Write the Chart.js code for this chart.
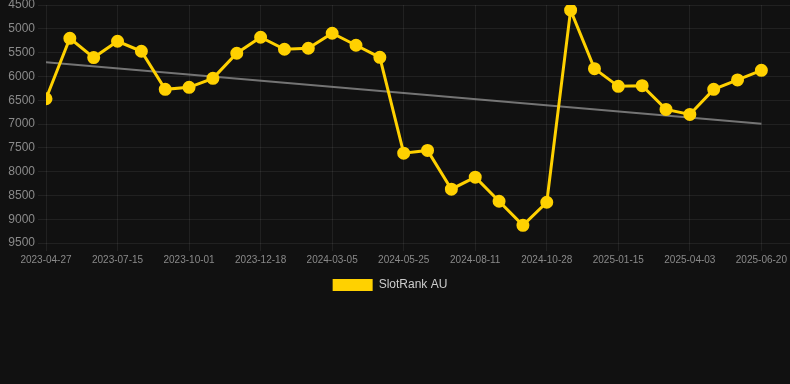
<!DOCTYPE html>
<html>
<head>
<meta charset="utf-8">
<script src="https://cdn.jsdelivr.net/npm/chart.js@4/dist/chart.umd.min.js"></script>
<style>
  html, body { margin: 0; padding: 0; background: #111111; }
  #wrap { position: relative; width: 790px; height: 301px; }
</style>
</head>
<body>
<div id="wrap"><canvas id="rankChart"></canvas></div>
<script>
const dates = [
  "2023-04-27", "2023-05-23", "2023-06-19", "2023-07-15", "2023-08-10",
  "2023-09-05", "2023-10-01", "2023-10-27", "2023-11-22", "2023-12-18",
  "2024-01-13", "2024-02-08", "2024-03-05", "2024-03-31", "2024-04-28",
  "2024-05-25", "2024-06-20", "2024-07-16", "2024-08-11", "2024-09-06",
  "2024-10-02", "2024-10-28", "2024-11-23", "2024-12-20", "2025-01-15",
  "2025-02-10", "2025-03-08", "2025-04-03", "2025-04-29", "2025-05-25",
  "2025-06-20",
];
const ranks = [
  6470, 5200, 5605, 5262, 5472, 6272, 6230, 6041, 5514, 5178,
  5430, 5409, 5093, 5346, 5599, 7612, 7556, 8370, 8117, 8623,
  9128, 8644, 4609, 5837, 6209, 6195, 6693, 6799, 6272, 6075,
  5873,
];
const trendStart = 5704;
const trendEnd = 6995;

const gridColor = "rgba(255,255,255,0.07)";
const tickColor = "#8a8a8a";

Chart.defaults.font.family = "Arial, 'Liberation Sans', sans-serif";

// nudge the legend a little left, like the original
const legendShift = {
  id: "legendShift",
  afterLayout: (chart) => {
    chart.legend.right -= 10;
  },
};

new Chart(document.getElementById("rankChart"), {
  type: "line",
  data: {
    datasets: [
      {
        label: "SlotRank AU",
        data: ranks.map((r, i) => ({ x: i, y: r })),
        borderColor: "#ffd100",
        backgroundColor: "#ffd100",
        borderWidth: 3,
        pointRadius: 5,
        pointHoverRadius: 5,
        tension: 0,
      },
      {
        label: "trend",
        data: [
          { x: 0, y: trendStart },
          { x: dates.length - 1, y: trendEnd },
        ],
        borderColor: "rgba(150,150,150,0.75)",
        borderWidth: 2,
        pointRadius: 0,
      },
    ],
  },
  plugins: [legendShift],
  options: {
    responsive: true,
    maintainAspectRatio: false,
    animation: false,
    layout: { padding: 0, autoPadding: false },
    scales: {
      x: {
        type: "linear",
        min: 0,
        max: 31.2,
        grid: { color: gridColor },
        border: { display: false },
        ticks: {
          stepSize: 3,
          color: tickColor,
          font: { size: 10 },
          maxRotation: 0,
          callback: (v) => (Number.isInteger(v) && dates[v] ? dates[v] : ""),
        },
        afterBuildTicks: (axis) => {
          axis.ticks = dates
            .map((_, i) => i)
            .filter((i) => i % 3 === 0)
            .map((i) => ({ value: i }));
        },
        afterFit: (axis) => {
          axis.paddingLeft = 0;
          axis.paddingRight = 0;
        },
      },
      y: {
        reverse: true,
        min: 4500,
        max: 9500,
        grid: { color: gridColor },
        border: { display: false },
        ticks: {
          stepSize: 500,
          color: tickColor,
          font: { size: 12 },
          callback: (v) => String(v),
        },
        afterFit: (axis) => {
          axis.width = 46;
          axis.paddingTop = 5;
          axis.paddingBottom = 0;
        },
      },
    },
    plugins: {
      tooltip: { enabled: false },
      legend: {
        position: "bottom",
        labels: {
          color: "#cccccc",
          font: { size: 12 },
          boxWidth: 40,
          boxHeight: 12,
          filter: (item) => item.text !== "trend",
          generateLabels: (chart) =>
            Chart.defaults.plugins.legend.labels
              .generateLabels(chart)
              .map((l) => ({ ...l, lineWidth: 0 })),
        },
      },
    },
  },
});
</script>
</body>
</html>
